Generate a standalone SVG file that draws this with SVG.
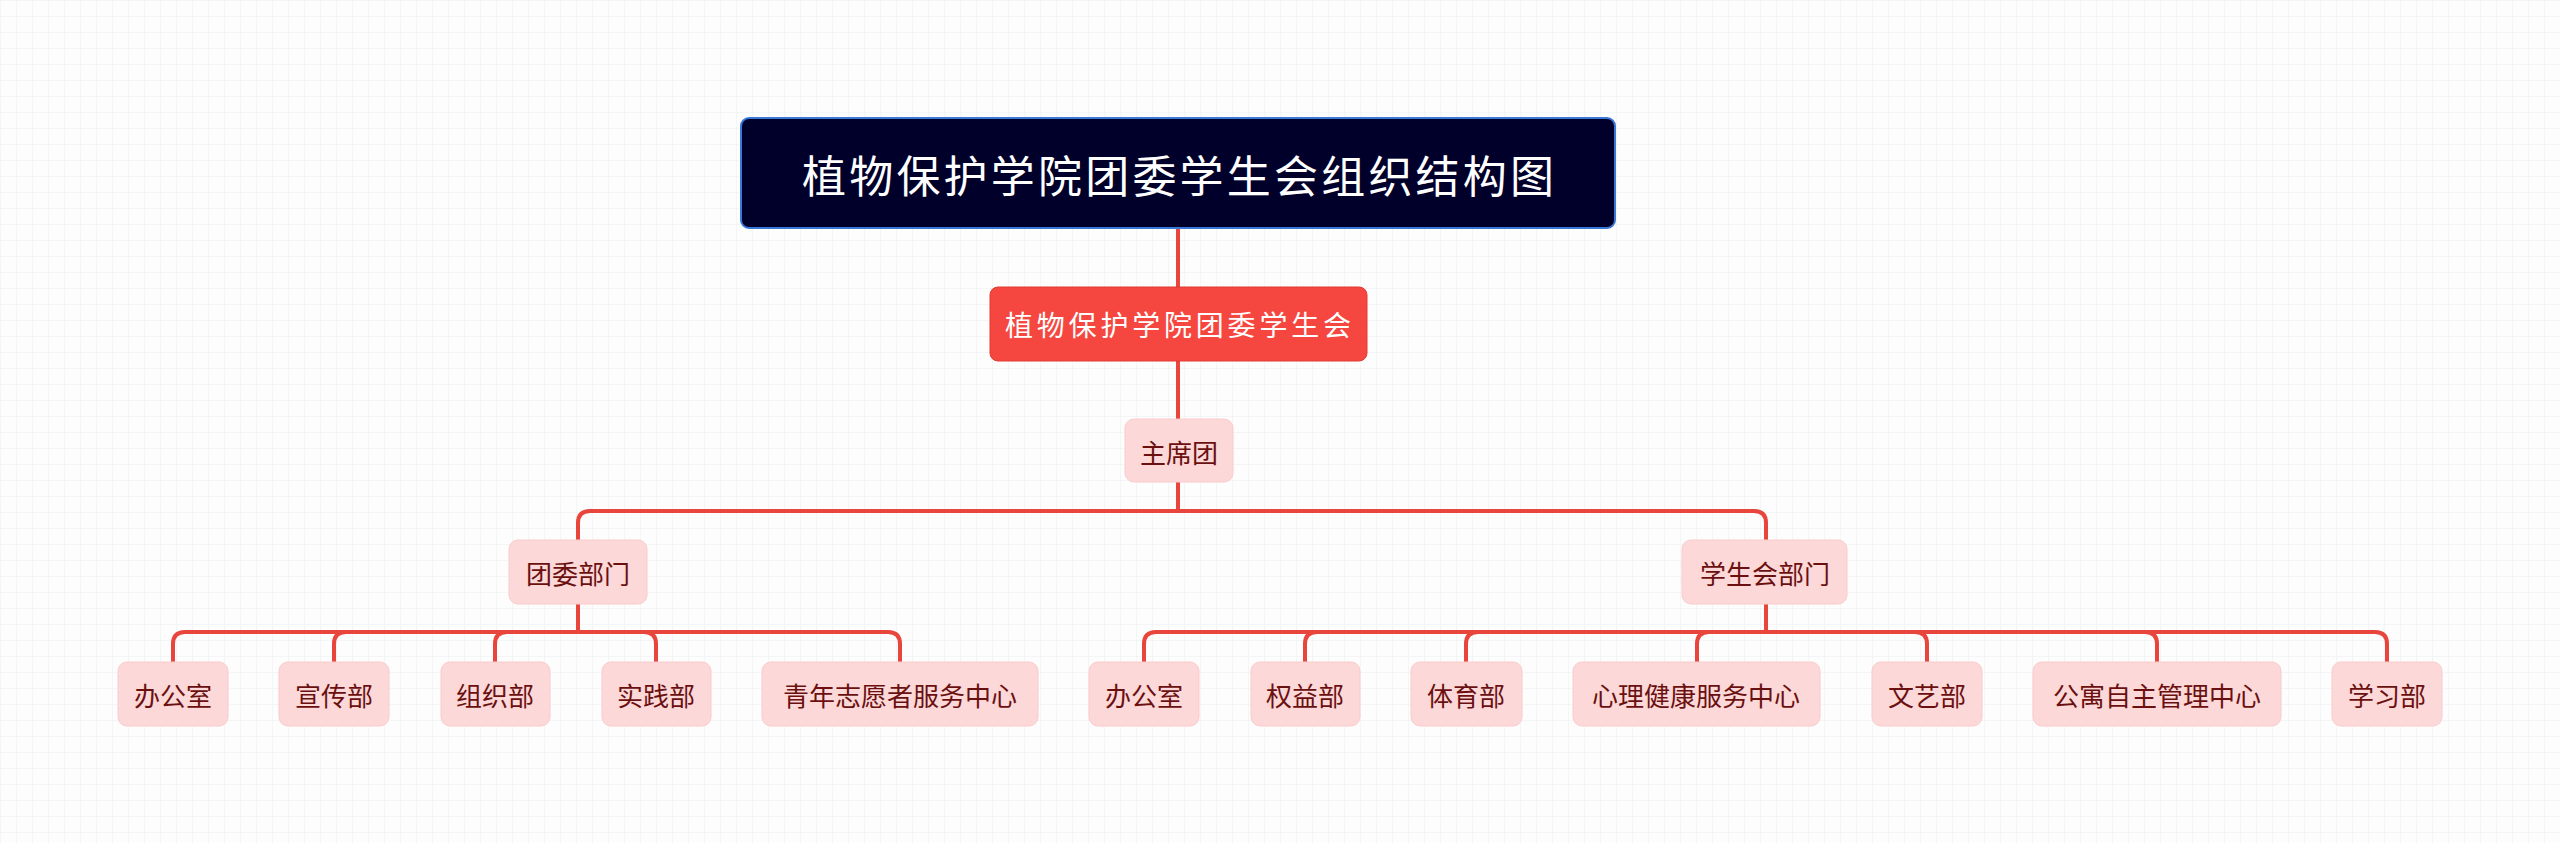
<svg xmlns="http://www.w3.org/2000/svg" width="2560" height="843" viewBox="0 0 2560 843">
<defs>
<pattern id="g" width="16" height="16" patternUnits="userSpaceOnUse"><path d="M16 0H0V16" fill="none" stroke="#eceef1" stroke-width="1"/></pattern>
<style>
text{font-family:"Noto Sans CJK SC","Noto Sans",sans-serif;text-anchor:middle;dominant-baseline:central}
.c{fill:none;stroke:#e8453d;stroke-width:4}
.leaf rect{fill:#fdd8d8;stroke:#fbcaca;stroke-width:1}
.leaf text{fill:#6b1010;font-size:26px}
</style>
</defs>
<rect width="2560" height="843" fill="#fdfdfd"/>
<rect width="2560" height="843" fill="url(#g)"/>
<g id="connectors">
<path class="c" d="M1178 228V287M1178 361V419M1178 482V511"/>
<path class="c" d="M590 511H1754Q1766 511 1766 523V540M590 511Q578 511 578 523V540"/>
<path class="c" d="M578 604V632M1766 604V632"/>
<path class="c" d="M185 632H888Q900 632 900 644V662M185 632Q173 632 173 644V662M346 632Q334 632 334 644V662M507 632Q495 632 495 644V662M644 632Q656 632 656 644V662"/>
<path class="c" d="M1156 632H2375Q2387 632 2387 644V662M1156 632Q1144 632 1144 644V662M1317 632Q1305 632 1305 644V662M1478 632Q1466 632 1466 644V662M1709 632Q1697 632 1697 644V662M1915 632Q1927 632 1927 644V662M2145 632Q2157 632 2157 644V662"/>
</g>
<g id="root"><rect x="741" y="118" width="874" height="110" rx="8" fill="#00002a" stroke="#3a78d8" stroke-width="2"/><text x="1178" y="174" fill="#fff" font-size="44" textLength="752">植物保护学院团委学生会组织结构图</text></g>
<g id="n1"><rect x="990" y="287" width="377" height="74" rx="8" fill="#f5473f" stroke="#e23a33"/><text x="1178" y="324" fill="#fff" font-size="28" textLength="346">植物保护学院团委学生会</text></g>
<g id="n2" class="leaf"><rect x="1125" y="419" width="108" height="63" rx="9"/><text x="1179" y="451">主席团</text></g>
<g id="n3" class="leaf"><rect x="509" y="540" width="138" height="64" rx="9"/><text x="578" y="572">团委部门</text></g>
<g id="n4" class="leaf"><rect x="1682" y="540" width="165" height="64" rx="9"/><text x="1765" y="572">学生会部门</text></g>
<g id="l1" class="leaf"><rect x="118" y="662" width="110" height="64" rx="9"/><text x="173" y="694">办公室</text></g>
<g id="l2" class="leaf"><rect x="279" y="662" width="110" height="64" rx="9"/><text x="334" y="694">宣传部</text></g>
<g id="l3" class="leaf"><rect x="441" y="662" width="109" height="64" rx="9"/><text x="495" y="694">组织部</text></g>
<g id="l4" class="leaf"><rect x="602" y="662" width="109" height="64" rx="9"/><text x="656" y="694">实践部</text></g>
<g id="l5" class="leaf"><rect x="762" y="662" width="276" height="64" rx="9"/><text x="900" y="694">青年志愿者服务中心</text></g>
<g id="r1" class="leaf"><rect x="1089" y="662" width="110" height="64" rx="9"/><text x="1144" y="694">办公室</text></g>
<g id="r2" class="leaf"><rect x="1251" y="662" width="109" height="64" rx="9"/><text x="1305" y="694">权益部</text></g>
<g id="r3" class="leaf"><rect x="1411" y="662" width="111" height="64" rx="9"/><text x="1466" y="694">体育部</text></g>
<g id="r4" class="leaf"><rect x="1573" y="662" width="247" height="64" rx="9"/><text x="1696" y="694">心理健康服务中心</text></g>
<g id="r5" class="leaf"><rect x="1872" y="662" width="110" height="64" rx="9"/><text x="1927" y="694">文艺部</text></g>
<g id="r6" class="leaf"><rect x="2033" y="662" width="248" height="64" rx="9"/><text x="2157" y="694">公寓自主管理中心</text></g>
<g id="r7" class="leaf"><rect x="2332" y="662" width="110" height="64" rx="9"/><text x="2387" y="694">学习部</text></g>
</svg>
